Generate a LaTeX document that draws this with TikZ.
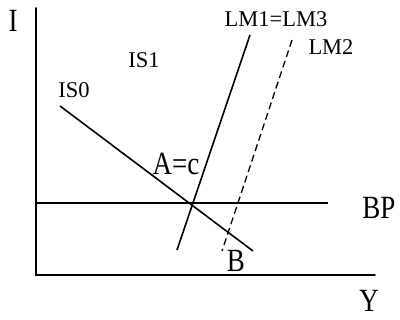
\documentclass[tikz,border=0pt]{standalone}
\usepackage{fontspec}
\setmainfont{Liberation Serif}
\usepackage{tikz}
\usetikzlibrary{calc}
\newcommand{\tallish}[1]{\scalebox{1}[1.2]{#1}}

\begin{document}
\begin{tikzpicture}[
      x=1pt,y=-1pt,
      axis/.style={line width=1.7pt,line cap=round},
      curve/.style={line width=1.6pt},
      shifted/.style={line width=1.3pt,dash pattern=on 7pt off 4pt},
      big/.style={inner sep=0pt,font=\fontsize{27}{27}\selectfont},
      small/.style={inner sep=0pt,font=\fontsize{22.5}{22.5}\selectfont}
    ]
      \useasboundingbox (0,0) rectangle (400,320);

      % axes
      \coordinate (top) at (36,8);
      \coordinate (origin) at (36,275);
      \coordinate (right) at (375,275);
      \draw[axis] (top) -- (origin) -- (right);
      \node[big] (ilabel) at (13,21) {\tallish{I}};
      \node[big] (ylabel) at (369,301) {\tallish{Y}};

      % BP line
      \coordinate (bpstart) at (36,203);
      \coordinate (bpend) at (328,203);
      \draw[curve] (bpstart) -- (bpend);
      \node[big] (bplabel) at (379,208) {\tallish{BP}};

      % IS curve
      \coordinate (isstart) at (60,106);
      \coordinate (isend) at (253,251);
      \draw[curve] (isstart) -- (isend);
      \node[small] (is0) at (74,90) {IS0};
      \node[small] (is1) at (144,60) {IS1};

      % LM curves
      \coordinate (lmtop) at (250,35);
      \coordinate (lmbottom) at (177,250);
      \draw[curve] (lmtop) -- (lmbottom);
      \node[small] (lm13) at (276,19) {LM1=LM3};

      \coordinate (lm2top) at (292,40);
      \coordinate (lm2bottom) at (222,251);
      \draw[shifted] (lm2top) -- (lm2bottom);
      \node[small] (lm2) at (331,47) {LM2};

      % equilibria
      \node[big] (pointA) at (176,164) {\tallish{A=c}};
      \node[big] (pointB) at (236,261) {\tallish{B}};
    \end{tikzpicture}
\end{document}
